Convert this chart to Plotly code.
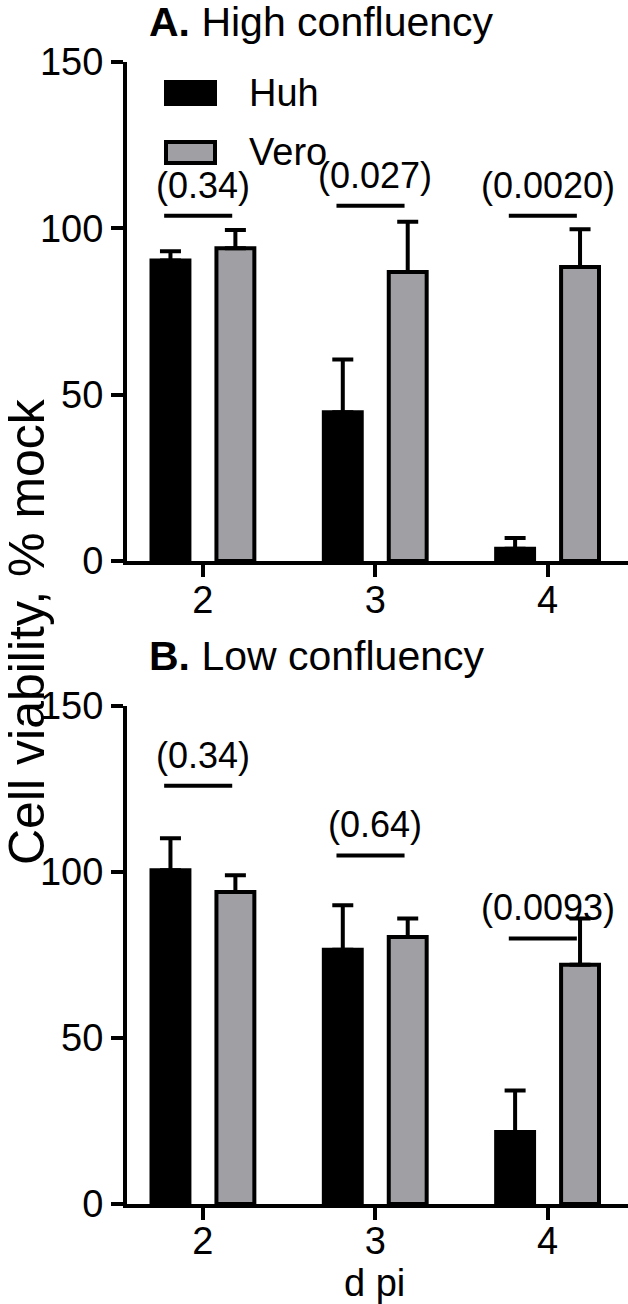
import plotly.graph_objects as go

# ---------------- data ----------------
days = [2, 3, 4]
day_labels = ["2", "3", "4"]
series_names = ["Huh", "Vero"]

huh_high = [90.3, 44.7, 3.7]
huh_high_sd = [2.8, 15.9, 3.2]
vero_high = [94.0, 86.9, 88.4]
vero_high_sd = [5.5, 15.1, 11.3]
p_high = ["(0.34)", "(0.027)", "(0.0020)"]
bracket_high = [103.8, 106.8, 103.8]

huh_low = [100.5, 76.6, 21.7]
huh_low_sd = [9.7, 13.4, 12.5]
vero_low = [94.0, 80.4, 72.1]
vero_low_sd = [5.0, 5.6, 13.9]
p_low = ["(0.34)", "(0.64)", "(0.0093)"]
bracket_low = [126.0, 105.0, 80.0]

y_ticks = [0, 50, 100, 150]
titles = ["<b>A.</b> High confluency", "<b>B.</b> Low confluency"]
y_title = "Cell viability, % mock"
x_title = "d pi"

# ---------------- layout helpers ----------------
W, H = 628, 1304
FONT = "Arial, 'Liberation Sans', Helvetica, sans-serif"
GRAY = "#a0a0a4"


def fx(px):
    return px / W


def fy(py):
    return 1 - py / H


BAR_W = 0.22
HUH_OFF = -0.1884 - BAR_W / 2
VERO_OFF = 0.1884 - BAR_W / 2

fig = go.Figure()

panels = [
    ("x", "y", huh_high, huh_high_sd, vero_high, vero_high_sd, p_high, bracket_high),
    ("x2", "y2", huh_low, huh_low_sd, vero_low, vero_low_sd, p_low, bracket_low),
]

for xa, ya, hv, hs, vv, vs, pv, bh in panels:
    fig.add_trace(go.Bar(
        x=days, y=hv, xaxis=xa, yaxis=ya, name=series_names[0],
        width=BAR_W, offset=HUH_OFF,
        marker=dict(color="black", line=dict(color="black", width=4)),
        error_y=dict(type="data", array=hs, arrayminus=[0] * len(hs), symmetric=False,
                     color="black", thickness=4, width=10.5),
        showlegend=False,
    ))
    fig.add_trace(go.Bar(
        x=days, y=vv, xaxis=xa, yaxis=ya, name=series_names[1],
        width=BAR_W, offset=VERO_OFF,
        marker=dict(color=GRAY, line=dict(color="black", width=4)),
        error_y=dict(type="data", array=vs, arrayminus=[0] * len(vs), symmetric=False,
                     color="black", thickness=4, width=10.5),
        showlegend=False,
    ))
    # significance brackets
    for d, h, t in zip(days, bh, pv):
        fig.add_trace(go.Scatter(
            x=[d - 0.225, d + 0.17], y=[h, h], xaxis=xa, yaxis=ya,
            mode="lines", line=dict(color="black", width=4),
            showlegend=False, hoverinfo="skip",
        ))
        fig.add_annotation(
            x=d, y=h, xref=xa, yref=ya, text=t, showarrow=False,
            yanchor="bottom", xanchor="center", yshift=8,
            font=dict(family=FONT, size=36, color="black"),
        )

axis_common = dict(
    showline=True, linecolor="black", linewidth=4,
    ticks="outside", ticklen=12, tickwidth=4, tickcolor="black",
    showgrid=False, zeroline=False, automargin=False,
    tickfont=dict(family=FONT, size=38, color="black"),
)

x_range = [1.5594, 4.4667]
y_dom_a = [fy(561), fy(62)]
y_dom_b = [fy(1204), fy(706)]
x_dom = [fx(127), 1.0]

fig.update_layout(
    width=W, height=H,
    margin=dict(l=0, r=0, t=0, b=0, pad=0),
    paper_bgcolor="white", plot_bgcolor="white",
    barmode="overlay",
    showlegend=False,
    font=dict(family=FONT, color="black"),
    xaxis=dict(domain=x_dom, range=x_range, anchor="y",
               tickvals=days, ticktext=day_labels, ticklabelstandoff=-10,
               **axis_common),
    yaxis=dict(domain=y_dom_a, range=[0, 150], anchor="x",
               tickvals=y_ticks, **axis_common),
    xaxis2=dict(domain=x_dom, range=x_range, anchor="y2",
                tickvals=days, ticktext=day_labels, ticklabelstandoff=-12,
                **axis_common),
    yaxis2=dict(domain=y_dom_b, range=[0, 150], anchor="x2",
                tickvals=y_ticks, **axis_common),
)

# panel titles
fig.add_annotation(x=fx(321), y=1.0, xref="paper", yref="paper", text=titles[0],
                   showarrow=False, xanchor="center", yanchor="top", yshift=3,
                   font=dict(family=FONT, size=41, color="black"))
fig.add_annotation(x=fx(317), y=fy(656), xref="paper", yref="paper", text=titles[1],
                   showarrow=False, xanchor="center", yanchor="middle",
                   font=dict(family=FONT, size=41, color="black"))

# x-axis title of the lower panel
fig.add_annotation(x=fx(374), y=0.0, xref="paper", yref="paper", text=x_title,
                   showarrow=False, xanchor="center", yanchor="bottom", yshift=-2,
                   font=dict(family=FONT, size=38, color="black"))

# shared y title
fig.add_annotation(x=0.0, y=fy(632), xref="paper", yref="paper", text=y_title,
                   showarrow=False, textangle=-90, xanchor="left", yanchor="middle",
                   xshift=-3,
                   font=dict(family=FONT, size=50, color="black"))

# legend (drawn manually for large swatches)
fig.add_shape(type="rect", xref="paper", yref="paper",
              x0=fx(164), x1=fx(217), y0=fy(106), y1=fy(80),
              fillcolor="black", line=dict(color="black", width=0))
fig.add_shape(type="rect", xref="paper", yref="paper",
              x0=fx(166), x1=fx(215), y0=fy(163), y1=fy(142),
              fillcolor=GRAY, line=dict(color="black", width=4))
fig.add_annotation(x=fx(247), y=fy(93), xref="paper", yref="paper", text=series_names[0],
                   showarrow=False, xanchor="left", yanchor="middle",
                   font=dict(family=FONT, size=38, color="black"))
fig.add_annotation(x=fx(247), y=fy(152), xref="paper", yref="paper", text=series_names[1],
                   showarrow=False, xanchor="left", yanchor="middle",
                   font=dict(family=FONT, size=38, color="black"))

fig.write_html("out.html", config={"displayModeBar": False},
               post_script="document.body.style.margin='0px';")
